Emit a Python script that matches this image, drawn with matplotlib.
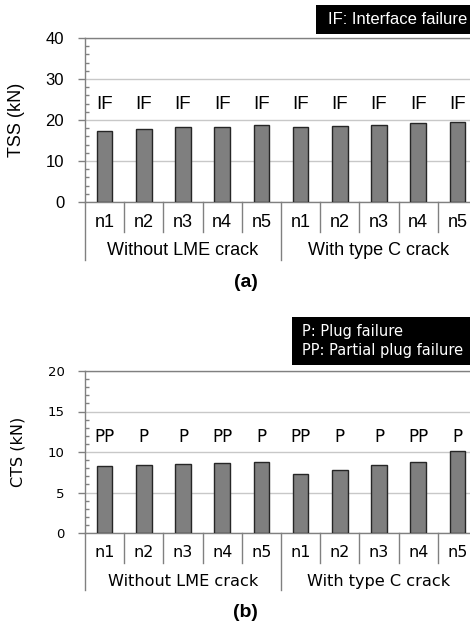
import matplotlib
matplotlib.use("Agg")
from matplotlib import pyplot as plt
from matplotlib.patches import Rectangle
from matplotlib.ticker import MultipleLocator

# data
samples = ["n1", "n2", "n3", "n4", "n5", "n1", "n2", "n3", "n4", "n5"]
groups = ["Without LME crack", "With type C crack"]
tss = [17.2, 17.8, 18.2, 18.4, 18.9, 18.4, 18.6, 18.9, 19.2, 19.4]
tss_fail = ["IF"] * 10
cts = [8.3, 8.4, 8.5, 8.6, 8.8, 7.3, 7.8, 8.4, 8.8, 10.1]
cts_fail = ["PP", "P", "P", "PP", "P", "PP", "P", "P", "PP", "P"]

W, H = 470, 624
fig = plt.figure(figsize=(W / 100, H / 100), dpi=100)

gray = "#808080"
grid_c = "#c8c8c8"


def px_axes(left, top, right, bottom):
    return fig.add_axes([left / W, 1 - bottom / H, (right - left) / W, (bottom - top) / H])


def panel(ax, vals, fails, ymax, major, minor, ylab, fail_y, tag, font, fs):
    n = len(vals)
    x = list(range(n))
    ax.set_axisbelow(True)
    ax.bar(x, vals, width=0.4, color="#7f7f7f", edgecolor="#262626", linewidth=1.0, zorder=3)
    ax.set_xlim(-0.5, n - 0.5)
    ax.set_ylim(0, ymax)
    ax.yaxis.set_major_locator(MultipleLocator(major))
    ax.yaxis.set_minor_locator(MultipleLocator(minor))
    ax.grid(axis="y", which="major", color=grid_c, linewidth=1.0)
    ax.set_xticks([])
    for s in ["left", "top", "bottom", "right"]:
        ax.spines[s].set_color(gray)
        ax.spines[s].set_linewidth(1.0)
    ax.tick_params(axis="y", which="major", direction="out", length=5, width=1, color=gray,
                   pad=fs["pad"], labelsize=fs["tick"])
    ax.tick_params(axis="y", which="minor", direction="in", length=3, width=1, color=gray)
    for lab in ax.get_yticklabels():
        lab.set_family(font)
    ax.set_ylabel(ylab, fontsize=fs["ylab"], family=font)
    ax.yaxis.set_label_coords(-0.153, 0.5)

    tr = ax.get_xaxis_transform()
    for i, f in enumerate(fails):
        ax.text(i, fail_y, f, ha="center", va="center", fontsize=fs["fail"], family=font)
    for i, s in enumerate(samples):
        ax.text(i, -0.122, s, transform=tr, ha="center", va="center", fontsize=fs["n"], family=font)
    # separators below the axis
    for i in range(n + 1):
        xb = i - 0.5
        depth = -0.354 if i % 5 == 0 else -0.183
        ax.plot([xb, xb], [0, depth], transform=tr, color=gray, linewidth=1.0, clip_on=False)
    for g, name in enumerate(groups):
        ax.text(g * 5 + 2, -0.298, name, transform=tr, ha="center", va="center",
                fontsize=fs["grp"], family=font)
    ax.text(0.41, -0.49, tag, transform=ax.transAxes, ha="center", va="center",
            fontsize=14, fontweight="bold", family="Liberation Sans")


ax1 = px_axes(85, 38, 477, 202)
panel(ax1, tss, tss_fail, 40, 10, 2, "TSS (kN)", 23.7, "(a)", "Liberation Sans",
      dict(tick=12, ylab=13, fail=13.5, n=13, grp=13, pad=10))

ax2 = px_axes(85, 371, 477, 533)
panel(ax2, cts, cts_fail, 20, 5, 1, "CTS (kN)", 11.8, "(b)", "DejaVu Sans",
      dict(tick=9.5, ylab=11.5, fail=12, n=11.5, grp=11.6, pad=9.5))

# legend boxes
fig.patches.append(Rectangle((316 / W, 1 - 34 / H), 160 / W, 29 / H, transform=fig.transFigure,
                             facecolor="black", edgecolor="none"))
fig.text(328 / W, 1 - 19.5 / H, "IF: Interface failure", color="white", fontsize=12,
         family="Liberation Sans", ha="left", va="center")

fig.patches.append(Rectangle((292 / W, 1 - 365 / H), 184 / W, 48 / H, transform=fig.transFigure,
                             facecolor="black", edgecolor="none"))
fig.text(302 / W, 1 - 331.5 / H, "P: Plug failure", color="white", fontsize=10.5,
         family="DejaVu Sans", ha="left", va="center")
fig.text(302 / W, 1 - 351 / H, "PP: Partial plug failure", color="white", fontsize=10.5,
         family="DejaVu Sans", ha="left", va="center")

fig.savefig("out.png", dpi=100)
